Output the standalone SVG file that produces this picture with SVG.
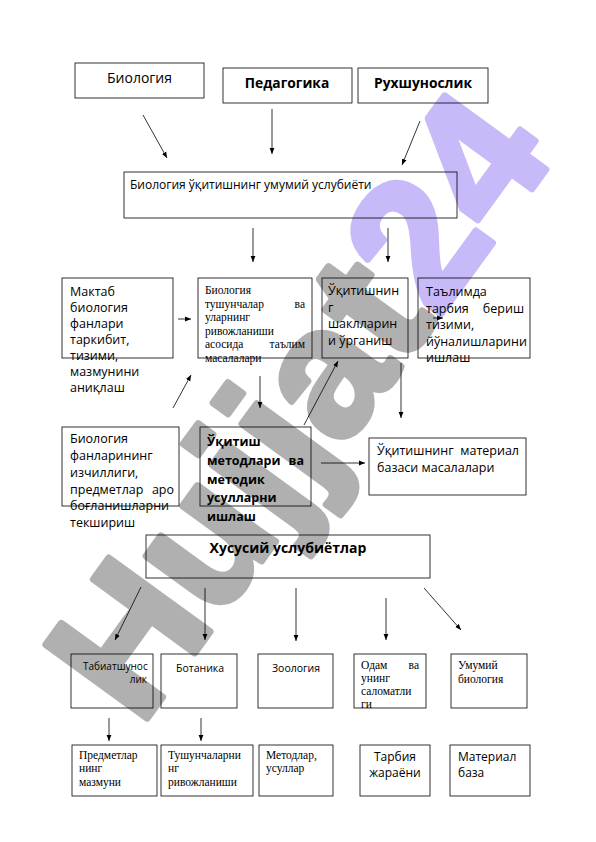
<svg xmlns="http://www.w3.org/2000/svg" width="596" height="842" viewBox="0 0 596 842">
<defs>
<marker id="ah" viewBox="0 0 10 10" refX="10" refY="5" markerWidth="6" markerHeight="6" orient="auto" markerUnits="userSpaceOnUse">
<path d="M0,1 L10,5 L0,9 z" fill="#000"/>
</marker>
<style>
.box{fill:none;stroke:#000;stroke-width:0.8}
.s{font-family:"Open Sans","Noto Sans","DejaVu Sans",sans-serif;fill:#000}
.r{font-family:"Liberation Serif","Times New Roman",serif;fill:#000}
.b{font-weight:bold}
.c line{stroke:#000;stroke-width:0.8;marker-end:url(#ah)}
</style>
</defs>
<rect width="596" height="842" fill="#fff"/>
<g id="watermark" transform="translate(140,728) rotate(-54)">
<text x="0" y="0" font-family="Liberation Sans" font-weight="bold" font-size="182" fill="#b0b0b0" stroke="#b0b0b0" stroke-width="7" stroke-linejoin="round">Hujjat<tspan fill="#c8b9f8" stroke="#c8b9f8">24</tspan></text>
</g>

<g id="n-biologiya"><rect class="box" x="75" y="63" width="129" height="35"/><text class="s" x="107" y="83" font-size="14">Биология</text></g>
<g id="n-pedagogika"><rect class="box" x="223" y="68" width="129" height="35"/><text class="s b" x="287" y="88" font-size="13.8" text-anchor="middle">Педагогика</text></g>
<g id="n-ruhshunoslik"><rect class="box" x="358" y="68" width="130" height="35"/><text class="s b" x="423" y="88" font-size="13.8" text-anchor="middle">Рухшунослик</text></g>

<g id="n-umumiy"><rect class="box" x="124" y="172" width="333" height="46"/><text class="s" x="130" y="189" font-size="12">Биология ўқитишнинг умумий услубиёти</text></g>

<g id="n-maktab"><rect class="box" x="62" y="278" width="111" height="80"/>
<text class="s" font-size="12.5"><tspan x="70" y="296">Мактаб</tspan><tspan x="70" y="312">биология</tspan><tspan x="70" y="328">фанлари</tspan><tspan x="70" y="344">таркибит,</tspan><tspan x="70" y="360">тизими,</tspan><tspan x="70" y="376">мазмунини</tspan><tspan x="70" y="392">аниқлаш</tspan></text></g>

<g id="n-tushuncha"><rect class="box" x="198" y="278" width="114" height="80"/>
<text class="r" font-size="11.5"><tspan x="205" y="294">Биология</tspan><tspan x="205" y="307.5">тушунчалар</tspan><tspan x="305" y="307.5" text-anchor="end">ва</tspan><tspan x="205" y="321">уларнинг</tspan><tspan x="205" y="334.5">ривожланиши</tspan><tspan x="205" y="348">асосида</tspan><tspan x="305" y="348" text-anchor="end">таълим</tspan><tspan x="205" y="361.5">масалалари</tspan></text></g>

<g id="n-shakllar"><rect class="box" x="322" y="278" width="86" height="80"/>
<text class="s" font-size="12.5"><tspan x="328" y="295">Ўқитишнин</tspan><tspan x="328" y="312">г</tspan><tspan x="328" y="328">шаклларин</tspan><tspan x="328" y="345">и ўрганиш</tspan></text></g>

<g id="n-tarbiya"><rect class="box" x="418" y="278" width="112" height="80"/>
<text class="s" font-size="12.5"><tspan x="426" y="296">Таълимда</tspan><tspan x="426" y="313">тарбия</tspan><tspan x="524" y="313" text-anchor="end">бериш</tspan><tspan x="426" y="329">тизими,</tspan><tspan x="426" y="346">йўналишларини</tspan><tspan x="426" y="362">ишлаш</tspan></text></g>

<g id="n-izchil"><rect class="box" x="62" y="427" width="117" height="79"/>
<text class="s" font-size="12.5"><tspan x="70" y="443">Биология</tspan><tspan x="70" y="460">фанларининг</tspan><tspan x="70" y="477">изчиллиги,</tspan><tspan x="70" y="494">предметлар</tspan><tspan x="174" y="494" text-anchor="end">аро</tspan><tspan x="70" y="510">боғланишларни</tspan><tspan x="70" y="527">текшириш</tspan></text></g>

<g id="n-metod"><rect class="box" x="200" y="427" width="111" height="79"/>
<text class="s b" font-size="12.5"><tspan x="207" y="446">Ўқитиш</tspan><tspan x="207" y="465">методлари</tspan><tspan x="304" y="465" text-anchor="end">ва</tspan><tspan x="207" y="484">методик</tspan><tspan x="207" y="502">усулларни</tspan><tspan x="207" y="521">ишлаш</tspan></text></g>

<g id="n-material"><rect class="box" x="369" y="438" width="157" height="57"/>
<text class="s" font-size="12.5"><tspan x="377" y="455">Ўқитишнинг</tspan><tspan x="519" y="455" text-anchor="end">материал</tspan><tspan x="377" y="472">базаси масалалари</tspan></text></g>

<g id="n-xususiy"><rect class="box" x="146" y="535" width="284" height="43"/><text class="s b" x="288" y="553" font-size="14" text-anchor="middle">Хусусий услубиётлар</text></g>

<g id="n-tabiat"><rect class="box" x="71" y="654" width="82" height="54"/>
<text class="s" font-size="10"><tspan x="83" y="670">Табиатшунос</tspan><tspan x="147" y="683" text-anchor="end">лик</tspan></text></g>
<g id="n-botanika"><rect class="box" x="161" y="654" width="76" height="54"/><text class="s" x="176" y="672" font-size="10.5">Ботаника</text></g>
<g id="n-zoologiya"><rect class="box" x="258" y="654" width="75" height="54"/><text class="s" x="272" y="672" font-size="10.5">Зоология</text></g>
<g id="n-odam"><rect class="box" x="354" y="654" width="72" height="54"/>
<text class="r" font-size="11.5"><tspan x="361" y="669">Одам</tspan><tspan x="419" y="669" text-anchor="end">ва</tspan><tspan x="361" y="682">унинг</tspan><tspan x="361" y="695">саломатли</tspan><tspan x="361" y="708">ги</tspan></text></g>
<g id="n-umumiybio"><rect class="box" x="451" y="654" width="76" height="54"/>
<text class="r" font-size="11.5"><tspan x="458" y="669">Умумий</tspan><tspan x="458" y="683">биология</tspan></text></g>

<g id="n-predmet"><rect class="box" x="72" y="745" width="85" height="51"/>
<text class="r" font-size="11.5"><tspan x="79" y="759">Предметлар</tspan><tspan x="79" y="772">нинг</tspan><tspan x="79" y="786">мазмуни</tspan></text></g>
<g id="n-tushrivoj"><rect class="box" x="161" y="745" width="92" height="51"/>
<text class="r" font-size="11.5"><tspan x="168" y="759">Тушунчаларни</tspan><tspan x="168" y="772">нг</tspan><tspan x="168" y="786">ривожланиши</tspan></text></g>
<g id="n-metodusul"><rect class="box" x="259" y="745" width="74" height="51"/>
<text class="r" font-size="11.5"><tspan x="266" y="759">Методлар,</tspan><tspan x="266" y="772">усуллар</tspan></text></g>
<g id="n-tarbjar"><rect class="box" x="360" y="745" width="70" height="51"/>
<text class="s" font-size="12" text-anchor="middle"><tspan x="395" y="761">Тарбия</tspan><tspan x="395" y="777">жараёни</tspan></text></g>
<g id="n-matbaza"><rect class="box" x="450" y="745" width="80" height="51"/>
<text class="s" font-size="12"><tspan x="458" y="761">Материал</tspan><tspan x="458" y="777">база</tspan></text></g>

<g id="connectors" class="c">
<line x1="143" y1="115" x2="167" y2="158"/>
<line x1="272" y1="109" x2="272" y2="154"/>
<line x1="420" y1="121" x2="402" y2="165"/>
<line x1="253" y1="228" x2="253" y2="262"/>
<line x1="388" y1="228" x2="388" y2="262"/>
<line x1="178" y1="319" x2="191" y2="319"/>
<line x1="433" y1="318" x2="443" y2="318"/>
<line x1="173" y1="408" x2="191" y2="375"/>
<line x1="260" y1="376" x2="260" y2="408"/>
<line x1="304" y1="425" x2="338" y2="361"/>
<line x1="401" y1="363" x2="401" y2="418"/>
<line x1="321" y1="463" x2="365" y2="463"/>
<line x1="141" y1="587" x2="115" y2="640"/>
<line x1="205" y1="588" x2="205" y2="640"/>
<line x1="296" y1="588" x2="296" y2="641"/>
<line x1="386" y1="598" x2="386" y2="640"/>
<line x1="424" y1="588" x2="461" y2="630"/>
<line x1="109" y1="718" x2="109" y2="741"/>
<line x1="201" y1="718" x2="201" y2="741"/>
</g>
</svg>
